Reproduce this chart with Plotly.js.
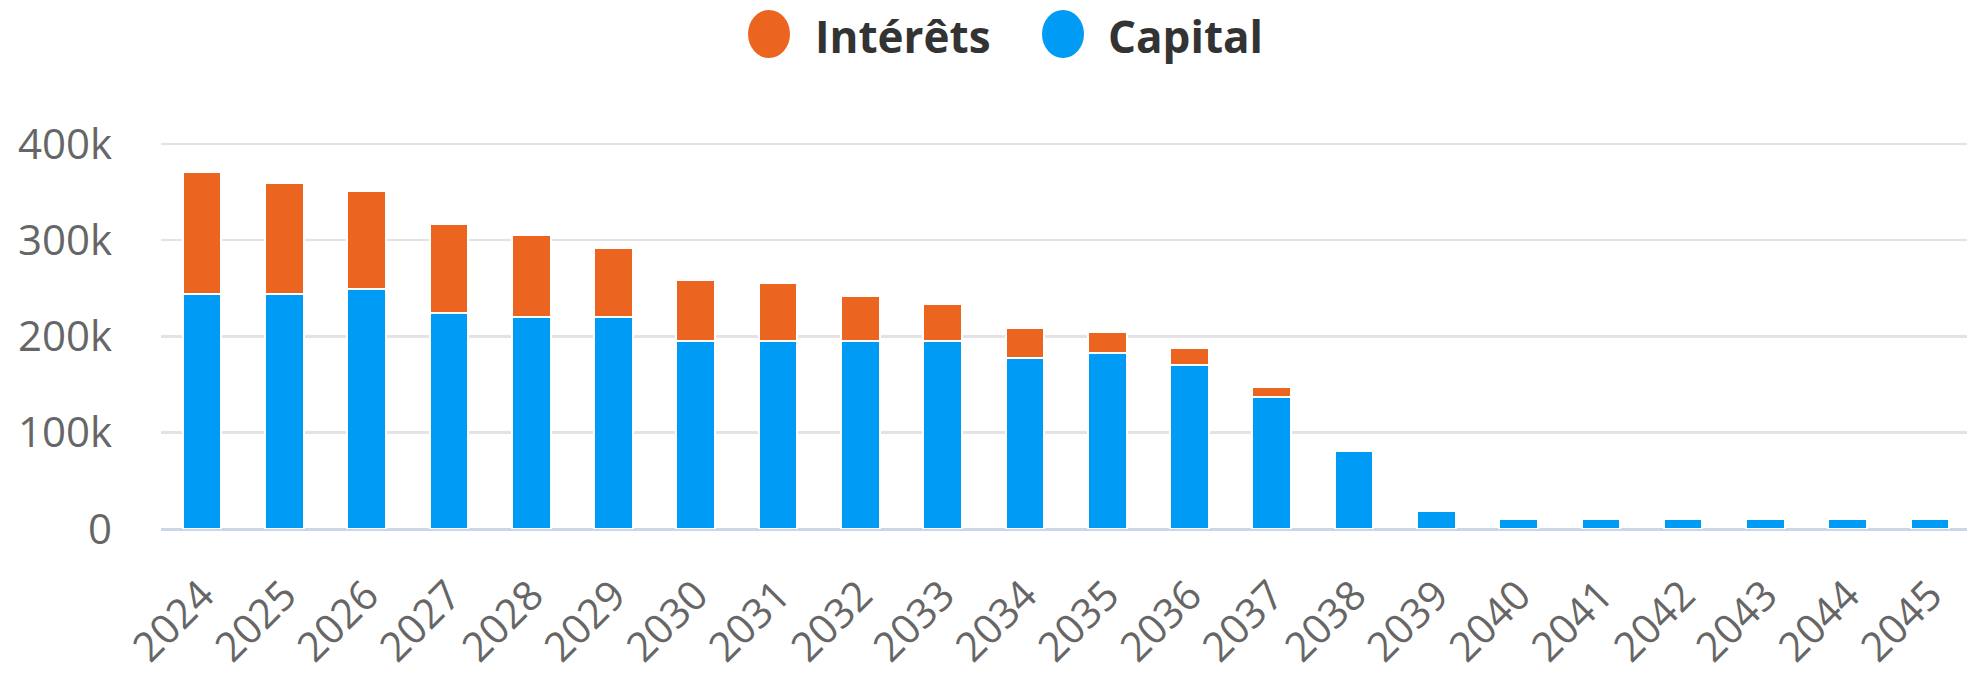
<!DOCTYPE html>
<html>
<head>
<meta charset="utf-8">
<script src="https://cdn.plot.ly/plotly-3.0.1.min.js"></script>
<style>
  html, body { margin: 0; padding: 0; background: #ffffff; overflow: hidden; }
  #chart { width: 1967px; height: 675px; }
</style>
</head>
<body>
<div id="chart"></div>
<script>
// ---- Data (values in euros) ----
const years = ["2024","2025","2026","2027","2028","2029","2030","2031","2032","2033","2034",
               "2035","2036","2037","2038","2039","2040","2041","2042","2043","2044","2045"];
const capital = [244000, 244000, 249000, 224000, 220000, 220000, 195000, 195000, 195000, 195000, 178000,
                 183000, 170000, 137000, 81000, 19000, 10000, 10000, 10000, 10000, 10000, 10000];
const interets = [127000, 115000, 102000, 93000, 85000, 72000, 64000, 60000, 47000, 39000, 31000,
                  22000, 18000, 10000, 0, 0, 0, 0, 0, 0, 0, 0];
const seriesNames = ["Intérêts", "Capital"];
const seriesColors = ["#EC6520", "#009BF4"];
const yTickVals = [0, 100000, 200000, 300000, 400000];
const yTickText = ["0", "100k", "200k", "300k", "400k"];

// ---- Layout geometry ----
const W = 1967, H = 675;
const M = { l: 161, r: 0, t: 141, b: 146 };
const plotW = W - M.l - M.r, plotH = H - M.t - M.b;
const px2x = px => (px - M.l) / plotW;
const px2y = py => (H - M.b - py) / plotH;

const font = "'Open Sans', 'Noto Sans', sans-serif";

const traces = [
  {
    type: "bar", name: seriesNames[1], x: years, y: capital,
    marker: { color: seriesColors[1], line: { color: "#ffffff", width: 2 } },
    showlegend: false
  },
  {
    type: "bar", name: seriesNames[0], x: years, y: interets,
    marker: { color: seriesColors[0], line: { color: "#ffffff", width: 2 } },
    showlegend: false
  }
];

const legendItems = [
  { name: seriesNames[0], color: seriesColors[0], cx: 769, tx: 813 },
  { name: seriesNames[1], color: seriesColors[1], cx: 1063, tx: 1106 }
];

const shapes = legendItems.map(it => ({
  type: "circle", xref: "paper", yref: "paper",
  x0: px2x(it.cx - 21), x1: px2x(it.cx + 21),
  y0: px2y(58), y1: px2y(10),
  fillcolor: it.color, line: { width: 0 }
}));

const annotations = legendItems.map(it => ({
  xref: "paper", yref: "paper",
  x: px2x(it.tx), y: px2y(36),
  xanchor: "left", yanchor: "middle",
  text: it.name, showarrow: false,
  font: { family: font, size: 44, color: "#333333", weight: "bold" }
}));

const layout = {
  width: W, height: H,
  margin: M,
  paper_bgcolor: "#ffffff",
  plot_bgcolor: "#ffffff",
  barmode: "stack",
  bargap: 0.53,
  showlegend: false,
  font: { family: font, color: "#666666" },
  xaxis: {
    type: "category",
    range: [-0.5, 21.45],
    tickangle: -45,
    tickfont: { family: font, size: 41, color: "#666666" },
    showgrid: false,
    showline: false,
    zeroline: false,
    ticks: "",
    ticklabelstandoff: 33,
    fixedrange: true
  },
  yaxis: {
    range: [0, 403000],
    tickvals: yTickVals,
    ticktext: yTickText,
    tickfont: { family: font, size: 42, color: "#666666" },
    showgrid: true,
    gridcolor: "#e3e3e6",
    gridwidth: 2.5,
    zeroline: true,
    zerolinecolor: "#ccd6eb",
    zerolinewidth: 3,
    showline: false,
    ticks: "",
    ticklabelstandoff: 48,
    fixedrange: true
  },
  shapes: shapes,
  annotations: annotations
};

Plotly.newPlot("chart", traces, layout, { displayModeBar: false, staticPlot: true });
</script>
</body>
</html>
